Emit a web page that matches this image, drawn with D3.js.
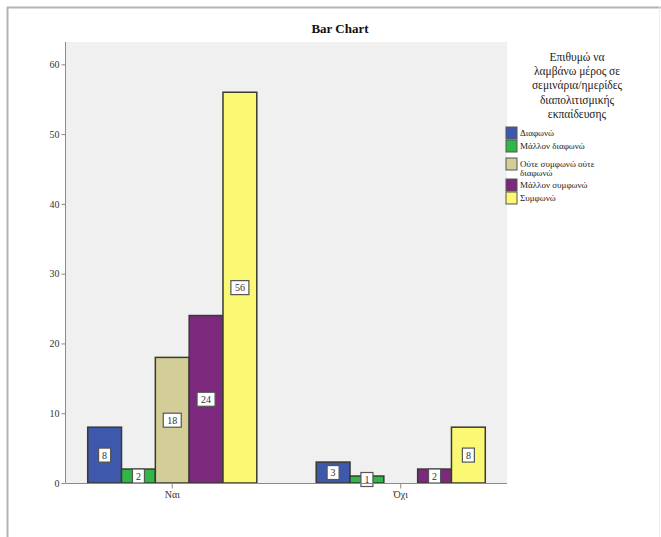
<!DOCTYPE html>
<html>
<head>
<meta charset="utf-8">
<script src="https://cdn.jsdelivr.net/npm/d3@7"></script>
<style>
  html, body { margin: 0; padding: 0; background: #fff; }
  svg { display: block; }
  text { font-family: "Liberation Serif", "DejaVu Serif", serif; }
</style>
</head>
<body>
<svg id="chart" width="661" height="537"></svg>
<script>
// ---- data ----
const categories = ["Ναι", "Όχι"];
const seriesNames = ["Διαφωνώ", "Μάλλον διαφωνώ", "Ούτε συμφωνώ ούτε διαφωνώ", "Μάλλον συμφωνώ", "Συμφωνώ"];
const valuesNai = [8, 2, 18, 24, 56];
const valuesOxi = [3, 1, 0, 2, 8];
const seriesColors = ["#3e58ac", "#2eb848", "#d3ce97", "#7c287d", "#fbf873"];
const yTicks = [0, 10, 20, 30, 40, 50, 60];
const titleText = "Bar Chart";
const legendTitle = ["Επιθυμώ να", "λαμβάνω μέρος σε", "σεμινάρια/ημερίδες", "διαπολιτισμικής", "εκπαίδευσης"];

const values = [valuesNai, valuesOxi];

const svg = d3.select("#chart");

// outer frame
svg.append("line").attr("x1", 7).attr("x2", 661).attr("y1", 7.5).attr("y2", 7.5)
  .attr("stroke", "#b4b4b4").attr("stroke-width", 2);
svg.append("line").attr("x1", 7.5).attr("x2", 7.5).attr("y1", 7).attr("y2", 537)
  .attr("stroke", "#b4b4b4").attr("stroke-width", 2);
svg.append("line").attr("x1", 659.5).attr("x2", 659.5).attr("y1", 7).attr("y2", 537)
  .attr("stroke", "#eeeeee").attr("stroke-width", 1);

const plot = { left: 66, right: 507, top: 42, bottom: 483 };

const y = d3.scaleLinear().domain([0, 63.2]).range([plot.bottom, plot.top]);
const x0 = d3.scaleBand().domain(categories).range([plot.left, plot.right])
  .paddingInner(0.26).paddingOuter(0.095);
const x1 = d3.scaleBand().domain(d3.range(seriesNames.length)).range([0, x0.bandwidth()]).padding(0);

// plot background
svg.append("rect").attr("x", plot.left).attr("y", plot.top)
  .attr("width", plot.right - plot.left).attr("height", plot.bottom - plot.top)
  .attr("fill", "#f0f0f0");

// title
svg.append("text").attr("x", 340).attr("y", 33).attr("text-anchor", "middle")
  .attr("font-size", 13).attr("font-weight", "bold").attr("fill", "#111").text(titleText);

// bars
const groups = svg.append("g").selectAll("g").data(categories).join("g")
  .attr("transform", d => `translate(${x0(d)},0)`);

groups.each(function(cat, ci) {
  const g = d3.select(this);
  const vals = values[ci];
  g.selectAll("rect").data(vals).join("rect")
    .attr("x", (d, i) => x1(i))
    .attr("y", d => y(d))
    .attr("width", x1.bandwidth())
    .attr("height", d => y(0) - y(d))
    .attr("fill", (d, i) => seriesColors[i])
    .attr("stroke", (d, i) => d > 0 ? "#3a3a30" : "none")
    .attr("stroke-width", 1.5);
  // labels
  const lab = g.selectAll("g.lab").data(vals.map((v, i) => ({ v, i })).filter(d => d.v > 0))
    .join("g").attr("class", "lab")
    .attr("transform", d => `translate(${x1(d.i) + x1.bandwidth() / 2},${(y(d.v) + y(0)) / 2})`);
  lab.append("rect")
    .attr("x", d => d.v >= 10 ? -9 : -6).attr("y", -7)
    .attr("width", d => d.v >= 10 ? 18 : 12).attr("height", 14)
    .attr("fill", "#fff").attr("stroke", "#555").attr("stroke-width", 1.2);
  lab.append("text").attr("text-anchor", "middle").attr("dy", "0.35em")
    .attr("font-size", 10).attr("fill", "#333").text(d => d.v);
});

// y axis
const yAxis = d3.axisLeft(y).tickValues(yTicks).tickSize(4).tickPadding(2).tickFormat(d3.format("d"));
const yg = svg.append("g").attr("transform", `translate(${plot.left - 0.5},0)`).call(yAxis);
yg.select(".domain").attr("d", `M0,${plot.top}V${plot.bottom}`).attr("stroke", "#8a8a8a");
yg.selectAll(".tick line").attr("stroke", "#8a8a8a");
yg.selectAll(".tick text").attr("font-size", 10).attr("fill", "#333")
  .attr("font-family", "Liberation Serif, serif");

// x axis
const xAxis = d3.axisBottom(x0).tickSize(5).tickPadding(2);
const xg = svg.append("g").attr("transform", `translate(0,${plot.bottom + 0.5})`).call(xAxis);
xg.select(".domain").attr("d", `M${plot.left},0H${plot.right}`).attr("stroke", "#8a8a8a");
xg.selectAll(".tick line").attr("stroke", "#8a8a8a");
xg.selectAll(".tick text").attr("font-size", 10).attr("fill", "#333")
  .attr("font-family", "Liberation Serif, serif");

// legend
const lg = svg.append("g");
lg.selectAll("text.lt").data(legendTitle).join("text").attr("class", "lt")
  .attr("x", 577).attr("y", (d, i) => 61 + i * 14.2)
  .attr("text-anchor", "middle").attr("font-size", 11.5).attr("fill", "#222").text(d => d);

const legendRows = [
  { lines: [seriesNames[0]], y: 127, h: 12 },
  { lines: [seriesNames[1]], y: 140, h: 12 },
  { lines: ["Ούτε συμφωνώ ούτε", "διαφωνώ"], y: 158, h: 12 },
  { lines: [seriesNames[3]], y: 179, h: 12 },
  { lines: [seriesNames[4]], y: 192, h: 12 }
];
const li = lg.selectAll("g.li").data(legendRows).join("g").attr("class", "li");
li.append("rect").attr("x", 506).attr("y", d => d.y).attr("width", 11).attr("height", d => d.h)
  .attr("fill", (d, i) => seriesColors[i]).attr("stroke", "#555").attr("stroke-width", 1);
li.each(function(d) {
  d3.select(this).selectAll("text").data(d.lines).join("text")
    .attr("x", 520).attr("y", (t, j) => d.y + 9 + j * 9)
    .attr("font-size", 9).attr("fill", "#222").text(t => t);
});
</script>
</body>
</html>
